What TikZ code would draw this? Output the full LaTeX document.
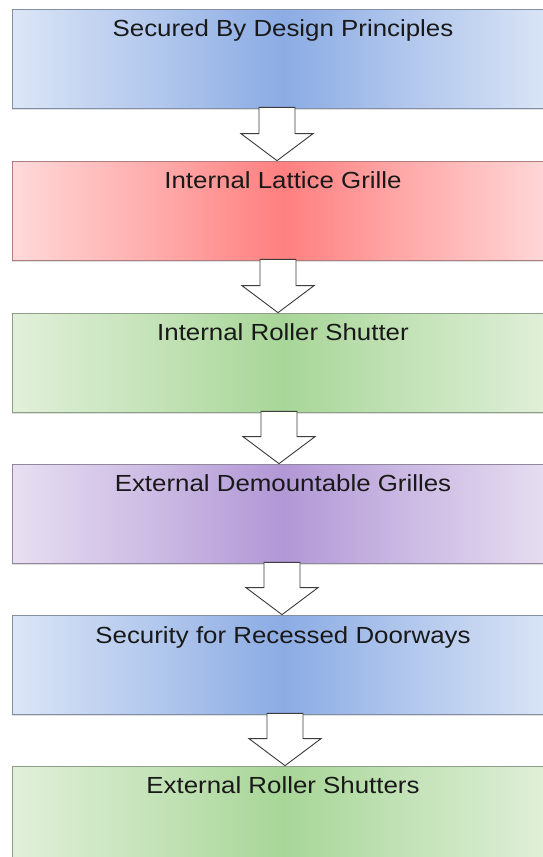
\documentclass[tikz,border=0pt]{standalone}
\usepackage{fontspec}
\setmainfont{Liberation Sans}
\usetikzlibrary{calc,shadows}
\definecolor{bluedark}{RGB}{140,172,228}
\definecolor{bluelight}{RGB}{220,230,246}
\definecolor{reddark}{RGB}{255,128,128}
\definecolor{redlight}{RGB}{255,218,218}
\definecolor{greendark}{RGB}{168,214,152}
\definecolor{greenlight}{RGB}{226,240,219}
\definecolor{purpledark}{RGB}{178,152,214}
\definecolor{purplelight}{RGB}{232,224,242}
\definecolor{txt}{RGB}{25,25,25}
\definecolor{arrowline}{RGB}{60,60,60}
\newcommand\declshade[1]{%
  \colorlet{#1mA}{#1dark!25!#1light}%
  \colorlet{#1mB}{#1dark!55!#1light}%
  \colorlet{#1mC}{#1dark!85!#1light}%
  \pgfdeclarehorizontalshading{#1shade}{100bp}{color(0bp)=(#1light);
    color(25bp)=(#1light);
    color(31bp)=(#1mA); color(39bp)=(#1mB); color(46bp)=(#1mC);
    color(50bp)=(#1dark); color(54bp)=(#1mC); color(61bp)=(#1mB);
    color(69bp)=(#1mA); color(75bp)=(#1light); color(100bp)=(#1light)}}
\declshade{blue}\declshade{red}\declshade{green}\declshade{purple}
\tikzset{
  box/.style={draw=#1dark!55!black!70, line width=0.7pt,
    shading=#1shade,
    minimum width=542pt, minimum height=99pt, inner sep=0pt,
    drop shadow={shadow xshift=0pt, shadow yshift=-2pt, opacity=0.25}},
  label/.style={anchor=base, text=txt, font=\fontsize{23.3}{27}\selectfont},
  barrow/.style={draw=arrowline, fill=white, line width=0.9pt, line join=miter}
}
\newcommand\blockarrow[3]{%
  \draw[barrow] let \p1=(#1.south), \p2=(#2.north) in
   (\x1#3-18pt,\y1+1pt) -- (\x1#3+18pt,\y1+1pt) -- (\x1#3+18pt,\y2+27pt)
   -- (\x1#3+36pt,\y2+27pt) -- (\x1#3,\y2) -- (\x1#3-36pt,\y2+27pt)
   -- (\x1#3-18pt,\y2+27pt) -- cycle;}
\begin{document}
\begin{tikzpicture}[x=1pt,y=-1pt]
\useasboundingbox (0,0) rectangle (543,857);
\fill[white] (0,0) rectangle (543,857);
\node[box=blue]   (b1) at (283,58.5)  {};
\node[box=red]    (b2) at (283,210.5) {};
\node[box=green]  (b3) at (283,362.5) {};
\node[box=purple] (b4) at (283,513.5) {};
\node[box=blue]   (b5) at (283,664.5) {};
\node[box=green, minimum height=110pt] (b6) at (283,821) {};
\node[label] (t1) at (283,36.7)  {\scalebox{1.11}[1]{Secured By Design Principles}};
\node[label] (t2) at (283,188.7) {\scalebox{1.11}[1]{Internal Lattice Grille}};
\node[label] (t3) at (283,340.7) {\scalebox{1.11}[1]{Internal Roller Shutter}};
\node[label] (t4) at (283,491.7) {\scalebox{1.11}[1]{External Demountable Grilles}};
\node[label] (t5) at (283,643.7) {\scalebox{1.11}[1]{Security for Recessed Doorways}};
\node[label] (t6) at (283,793.7) {\scalebox{1.11}[1]{External Roller Shutters}};
\blockarrow{b1}{b2}{-6pt}
\blockarrow{b2}{b3}{-5pt}
\blockarrow{b3}{b4}{-4pt}
\blockarrow{b4}{b5}{-1pt}
\blockarrow{b5}{b6}{+2pt}
\end{tikzpicture}
\end{document}
